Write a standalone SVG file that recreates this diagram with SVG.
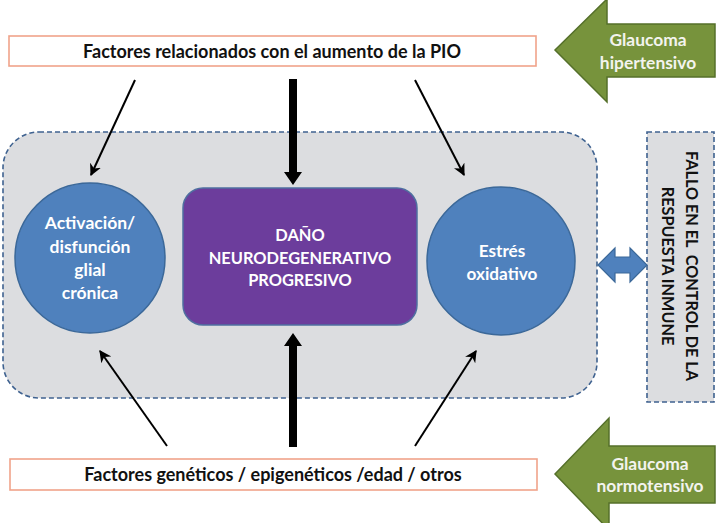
<svg xmlns="http://www.w3.org/2000/svg" width="728" height="523" viewBox="0 0 728 523">
<defs>
<style>
.t{font-family:Lato,"Open Sans","Liberation Sans",sans-serif;font-weight:bold;}
.lbl{fill:#111;font-size:18px;text-anchor:middle;}
.wh{fill:#ffffff;text-anchor:middle;}
.gt{fill:#f3f3ee;font-size:17.4px;}
.factor{fill:#ffffff;stroke:#f0a38a;stroke-width:1.6;}
.green{fill:#77933c;stroke:#55702a;stroke-width:1.5;}
.dash{fill:#dcdde0;stroke:#3f6290;stroke-width:1.6;stroke-dasharray:5 3;}
.circ{fill:#4f81bd;stroke:#3b6899;stroke-width:1.5;}
.thin{stroke:#000;stroke-width:2;fill:none;marker-end:url(#ah);}
.thick{fill:#000;}
</style>
<marker id="ah" viewBox="0 0 10 10" refX="9" refY="5" markerWidth="6" markerHeight="6" markerUnits="strokeWidth" orient="auto">
<path d="M0,0 L10,5 L0,10 L3,5 Z" fill="#000"/>
</marker>
</defs>

<g id="background-panel">
<rect class="dash" x="3" y="132" width="594" height="266" rx="36" ry="36"/>
</g>

<g id="top-factors">
<rect class="factor" x="9" y="36" width="527" height="30"/>
<text class="t lbl" x="272" y="57.5">Factores relacionados con el aumento de la PIO</text>
</g>

<g id="bottom-factors">
<rect class="factor" x="10" y="459" width="527" height="31"/>
<text class="t lbl" x="273" y="481">Factores genéticos / epigenéticos /edad / otros</text>
</g>

<g id="glaucoma-hipertensivo">
<path class="green" d="M555,50 L607,-1 L607,24 L715,24 L715,77 L607,77 L607,102 Z"/>
<text class="t wh gt" x="648" y="46">Glaucoma</text>
<text class="t wh gt" x="648" y="69">hipertensivo</text>
</g>

<g id="glaucoma-normotensivo">
<path class="green" d="M555,474 L609,418 L609,446 L715,446 L715,503 L609,503 L609,530 Z"/>
<text class="t wh gt" x="650" y="470">Glaucoma</text>
<text class="t wh gt" x="650" y="492">normotensivo</text>
</g>

<g id="glial">
<circle class="circ" cx="90" cy="258" r="75"/>
<text class="t wh" font-size="17.5"><tspan x="90" y="229">Activación/</tspan><tspan x="90" y="253">disfunción</tspan><tspan x="90" y="276">glial</tspan><tspan x="90" y="299">crónica</tspan></text>
</g>

<g id="dano">
<rect x="183" y="188" width="234" height="137" rx="20" ry="20" fill="#6c3d9c" stroke="#4f6fa0" stroke-width="1.5"/>
<text class="t wh" font-size="16.4"><tspan x="300" y="241">DAÑO</tspan><tspan x="300" y="264">NEURODEGENERATIVO</tspan><tspan x="300" y="286">PROGRESIVO</tspan></text>
</g>

<g id="estres">
<circle class="circ" cx="501" cy="261" r="74"/>
<text class="t wh" font-size="17.2"><tspan x="502" y="257">Estrés</tspan><tspan x="502" y="280">oxidativo</tspan></text>
</g>

<g id="respuesta-inmune">
<rect class="dash" x="647" y="132" width="67" height="270"/>
<text class="t" font-size="16.2" fill="#111" text-anchor="middle" style="white-space:pre" transform="translate(686,266) rotate(90)"><tspan x="0" y="0">FALLO EN EL  CONTROL DE LA</tspan><tspan x="0" y="24">RESPUESTA INMUNE</tspan></text>
</g>

<g id="connectors">
<line class="thin" x1="135" y1="80" x2="91" y2="175"/>
<line class="thin" x1="415" y1="80" x2="464" y2="175"/>
<line class="thin" x1="167" y1="446" x2="100" y2="351"/>
<line class="thin" x1="415" y1="446" x2="476" y2="351"/>
<path class="thick" d="M289,79 L297,79 L297,172 L302,172 L293,185 L284,172 L289,172 Z"/>
<path class="thick" d="M289,447 L297,447 L297,346 L302,346 L293,333 L284,346 L289,346 Z"/>
<path d="M598,265 L615,248 L615,257 L630,257 L630,248 L647,265 L630,282 L630,273 L615,273 L615,282 Z" fill="#4f81bd" stroke="#3b6899" stroke-width="1.2"/>
</g>
</svg>
